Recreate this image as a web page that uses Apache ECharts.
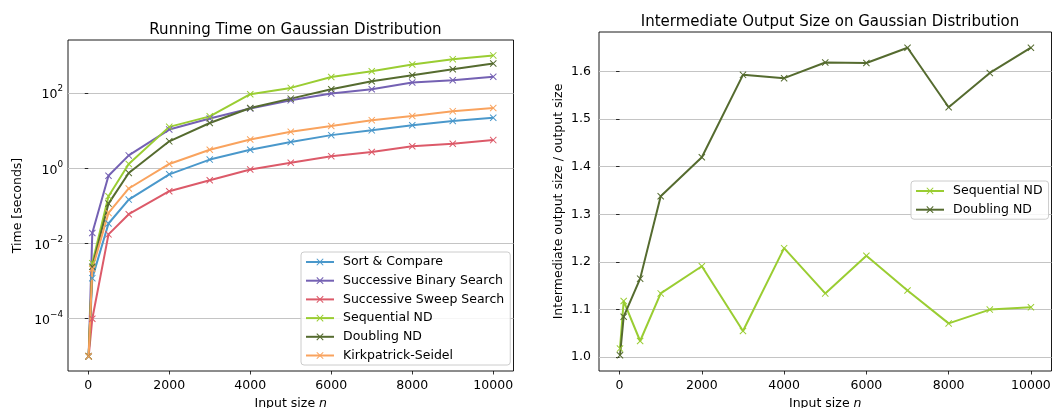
<!DOCTYPE html>
<html>
<head>
<meta charset="utf-8">
<script src="https://cdn.jsdelivr.net/npm/echarts@6/dist/echarts.min.js"></script>
<style>
  html, body { margin: 0; padding: 0; background: #fff; }
  #chart { width: 1053px; height: 408px; }
</style>
</head>
<body>
<div id="chart"></div>
<script>
// ---------- data ----------
const inputSizes = [10, 100, 500, 1000, 2000, 3000, 4000, 5000, 6000, 7000, 8000, 9000, 10000];

// Running time (seconds), log scale
const sortCompare      = [1e-5, 0.0012, 0.034, 0.147, 0.69, 1.7, 3.1, 5.0, 7.6, 10.2, 13.9, 18, 22];
const binarySearch     = [1e-5, 0.019, 0.63, 2.2, 10.7, 21, 39, 64, 97, 126, 190, 218, 270];
const sweepSearch      = [1e-5, 1e-4, 0.0175, 0.06, 0.245, 0.48, 0.93, 1.4, 2.1, 2.7, 3.85, 4.5, 5.6];
const sequentialND     = [1e-5, 0.003, 0.18, 1.3, 12.6, 24, 93, 137, 268, 380, 575, 795, 1000];
const doublingND       = [1e-5, 0.0024, 0.115, 0.75, 5.2, 16, 40, 71, 126, 206, 297, 430, 610];
const kirkpatrickSeidel= [1e-5, 0.0021, 0.065, 0.29, 1.3, 3.1, 5.8, 9.3, 13.3, 19, 24.6, 33, 40];

// Intermediate output size / output size
const seqNDRatio      = [1.018, 1.118, 1.034, 1.134, 1.191, 1.055, 1.229, 1.134, 1.213, 1.14, 1.071, 1.10, 1.105];
const doublingNDRatio = [1.004, 1.085, 1.165, 1.338, 1.42, 1.593, 1.586, 1.619, 1.618, 1.65, 1.525, 1.597, 1.65];

// ticks
const xTicks = [0, 2000, 4000, 6000, 8000, 10000];
const logTicks = [1e-4, 1e-2, 1, 100];
const ratioTicks = [1.0, 1.1, 1.2, 1.3, 1.4, 1.5, 1.6];

const titles = ['Running Time on Gaussian Distribution', 'Intermediate Output Size on Gaussian Distribution'];
const leftNames = ['Sort & Compare', 'Successive Binary Search', 'Successive Sweep Search', 'Sequential ND', 'Doubling ND', 'Kirkpatrick-Seidel'];
const leftColors = ['#4a98cb', '#7461b3', '#dc5a69', '#9acd32', '#556b2f', '#f9a35e'];
const leftSeries = [sortCompare, binarySearch, sweepSearch, sequentialND, doublingND, kirkpatrickSeidel];

// ---------- chart ----------
const FONT = 'DejaVu Sans';
const FS = 12.5;
const X_MARK = 'path://M0,1L1,0L5,4L9,0L10,1L6,5L10,9L9,10L5,6L1,10L0,9L4,5Z';
const pairs = ys => inputSizes.map((x, i) => [x, ys[i]]);

function supFmt(v) {
  const e = Math.round(Math.log10(v));
  return '{b|10}{s|' + String(e).replace('-', '\u2212') + '}';
}

const baseX = (gi) => ({
  type: 'value', gridIndex: gi, min: -500, max: 10500,
  name: 'Input size {i|n}', nameLocation: 'middle', nameGap: 26,
  nameTextStyle: { fontFamily: FONT, fontSize: FS, color: '#000', rich: { i: { fontFamily: FONT, fontStyle: 'italic', fontSize: FS, color: '#000' } } },
  axisLine: { show: false },
  axisTick: { show: true, length: 3.5, lineStyle: { color: '#000', width: 0.8 }, customValues: xTicks },
  axisLabel: { customValues: xTicks, margin: 8, fontFamily: FONT, fontSize: FS, color: '#000', formatter: v => String(v) },
  splitLine: { show: false }
});

const series = [];
leftSeries.forEach((ys, i) => {
  series.push({
    type: 'line', name: leftNames[i], xAxisIndex: 0, yAxisIndex: 0,
    data: pairs(ys), symbol: X_MARK, symbolSize: 7, showAllSymbol: true,
    color: leftColors[i],
    lineStyle: { width: 2, color: leftColors[i] },
    itemStyle: { color: leftColors[i] },
    emphasis: { disabled: true }, animation: false
  });
});
series.push({
  type: 'line', name: 'Sequential ND', xAxisIndex: 1, yAxisIndex: 1,
  data: pairs(seqNDRatio), symbol: X_MARK, symbolSize: 7, showAllSymbol: true,
  color: leftColors[3], lineStyle: { width: 2, color: leftColors[3] }, itemStyle: { color: leftColors[3] },
  emphasis: { disabled: true }, animation: false
});
series.push({
  type: 'line', name: 'Doubling ND', xAxisIndex: 1, yAxisIndex: 1,
  data: pairs(doublingNDRatio), symbol: X_MARK, symbolSize: 7, showAllSymbol: true,
  color: leftColors[4], lineStyle: { width: 2, color: leftColors[4] }, itemStyle: { color: leftColors[4] },
  emphasis: { disabled: true }, animation: false
});

const legendBase = {
  orient: 'vertical', itemWidth: 28, itemHeight: 9, itemGap: 5.7,
  padding: [3.5, 6, 3, 4],
  backgroundColor: 'rgba(255,255,255,0.85)', borderColor: '#cccccc', borderWidth: 1, borderRadius: 3,
  textStyle: { fontFamily: FONT, fontSize: FS, color: '#000', padding: [0, 0, 0, 4] },
  selectedMode: false
};

const option = {
  animation: false,
  backgroundColor: '#fff',
  title: [
    { text: titles[0], left: 290.5, top: 17.5, textAlign: 'center',
      textStyle: { fontFamily: FONT, fontSize: 15, fontWeight: 'normal', color: '#000' } },
    { text: titles[1], left: 825, top: 9.5, textAlign: 'center',
      textStyle: { fontFamily: FONT, fontSize: 15, fontWeight: 'normal', color: '#000' } }
  ],
  legend: [
    Object.assign({}, legendBase, { left: 301, top: 252, data: leftNames }),
    Object.assign({}, legendBase, { left: 911, top: 181, data: ['Sequential ND', 'Doubling ND'] })
  ],
  grid: [
    { left: 68, right: 539.5, top: 40, bottom: 37, show: true, borderColor: '#000', borderWidth: 0.9, backgroundColor: 'transparent', outerBoundsMode: 'none', containLabel: false },
    { left: 599, right: 1.5, top: 32, bottom: 37, show: true, borderColor: '#000', borderWidth: 0.9, backgroundColor: 'transparent', outerBoundsMode: 'none', containLabel: false }
  ],
  xAxis: [baseX(0), baseX(1)],
  yAxis: [
    {
      type: 'log', gridIndex: 0, logBase: 10,
      min: Math.pow(10, -5.39), max: Math.pow(10, 3.41),
      name: 'Time [seconds]', nameLocation: 'middle', nameGap: 44,
      nameTextStyle: { fontFamily: FONT, fontSize: FS, color: '#000' },
      axisLine: { show: false },
      axisTick: { show: true, length: 3.5, lineStyle: { color: '#000', width: 0.8 }, customValues: logTicks },
      axisLabel: {
        customValues: logTicks, margin: 5, formatter: supFmt, color: '#000',
        rich: {
          b: { fontFamily: FONT, fontSize: FS, color: '#000', lineHeight: 17, verticalAlign: 'bottom' },
          s: { fontFamily: FONT, fontSize: 8.8, color: '#000', lineHeight: 12, verticalAlign: 'top' }
        }
      },
      splitLine: { show: true, lineStyle: { color: '#c4c4c4', width: 1 } },
      minorTick: { show: false }, minorSplitLine: { show: false }
    },
    {
      type: 'value', gridIndex: 1, min: 0.971, max: 1.683,
      name: 'Intermediate output size / output size', nameLocation: 'middle', nameGap: 34,
      nameTextStyle: { fontFamily: FONT, fontSize: FS, color: '#000' },
      axisLine: { show: false },
      axisTick: { show: true, length: 3.5, lineStyle: { color: '#000', width: 0.8 }, customValues: ratioTicks },
      axisLabel: { customValues: ratioTicks, margin: 8, fontFamily: FONT, fontSize: FS, color: '#000', formatter: v => v.toFixed(1) },
      splitLine: { show: true, lineStyle: { color: '#c4c4c4', width: 1 } }
    }
  ],
  series: series
};

const chart = echarts.init(document.getElementById('chart'), null, { renderer: 'canvas' });
chart.setOption(option);
</script>
</body>
</html>
